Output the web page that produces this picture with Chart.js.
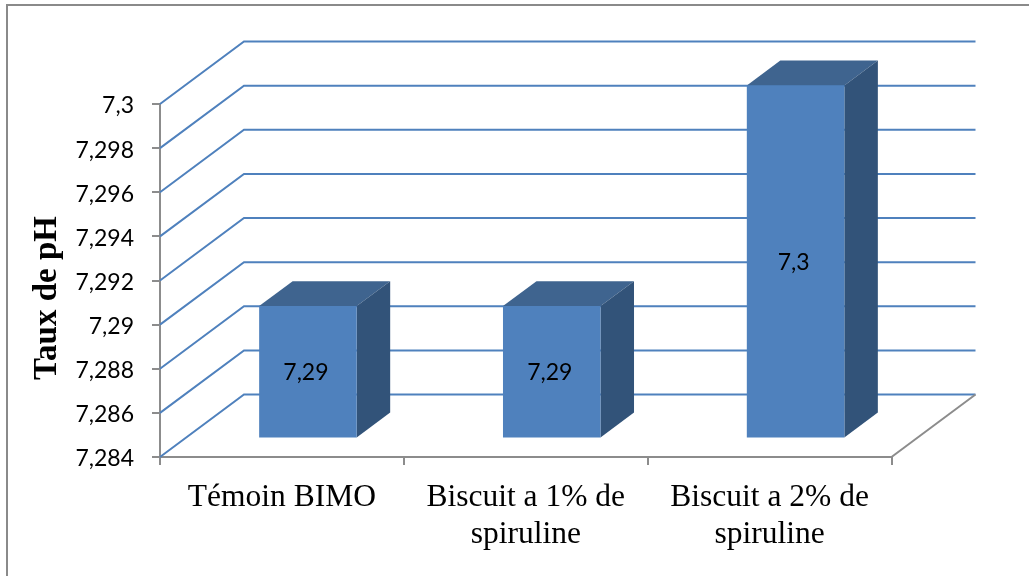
<!DOCTYPE html>
<html lang="fr">
<head>
  <meta charset="UTF-8" />
  <title>Taux de pH</title>
  <script src="https://cdn.jsdelivr.net/npm/chart.js"></script>
  <style>
    html, body { margin: 0; padding: 0; background: #fff; }
    /* the reference is a slightly soft scan */
    canvas { display: block; filter: blur(0.45px); }
  </style>
</head>
<body>
  <canvas id="phChart" width="1029" height="576"></canvas>
  <script>
    const categories = ['Témoin BIMO', ['Biscuit a 1% de', 'spiruline'], ['Biscuit a 2% de', 'spiruline']];
    const phValues = [7.29, 7.29, 7.3];
    const valueLabels = ['7,29', '7,29', '7,3'];
    const tickLabels = ['7,284', '7,286', '7,288', '7,29', '7,292', '7,294', '7,296', '7,298', '7,3'];
    const axisMin = 7.284;
    const axisMax = 7.3;

    const GRID = '#4f81bd';
    const AXIS = '#8c8c8c';
    // fake 3D: how far the back wall sits from the front plane
    const depth = { dx: 84, dy: -62.5 };
    const barOffset = { dx: 26, dy: -18.6 };
    const barDepth = { dx: 33.5, dy: -24.8 };

    function face(ctx, pts, color) {
      ctx.fillStyle = color;
      ctx.beginPath();
      pts.forEach((p, i) => (i ? ctx.lineTo(p[0], p[1]) : ctx.moveTo(p[0], p[1])));
      ctx.closePath();
      ctx.fill();
    }

    const fake3d = {
      id: 'fake3d',
      beforeDraw(chart) {
        // frame of the original picture, only top and left show
        const ctx = chart.ctx;
        ctx.save();
        ctx.strokeStyle = '#8a8a8a';
        ctx.lineWidth = 2;
        ctx.beginPath();
        ctx.moveTo(7, 576);
        ctx.lineTo(7, 5);
        ctx.lineTo(1029, 5);
        ctx.stroke();
        ctx.restore();
      },
      beforeDatasetsDraw(chart) {
        const { ctx, scales: { x, y } } = chart;
        const left = x.left, right = x.right;
        ctx.save();
        ctx.lineWidth = 2;
        ctx.strokeStyle = GRID;
        y.ticks.forEach((t) => {
          const py = y.getPixelForValue(t.value);
          ctx.beginPath();
          ctx.moveTo(left, py);
          ctx.lineTo(left + depth.dx, py + depth.dy);
          ctx.lineTo(right + depth.dx, py + depth.dy);
          ctx.stroke();
        });
        // floor edge on the right
        ctx.strokeStyle = AXIS;
        ctx.beginPath();
        ctx.moveTo(right, y.bottom);
        ctx.lineTo(right + depth.dx, y.bottom + depth.dy);
        ctx.stroke();
        ctx.restore();
      },
      beforeDatasetDraw(chart, args) {
        const ctx = chart.ctx;
        ctx.save();
        ctx.translate(barOffset.dx, barOffset.dy);
        args.meta.data.forEach((bar) => {
          const l = bar.x - bar.width / 2, r = bar.x + bar.width / 2;
          const dx = barDepth.dx, dy = barDepth.dy;
          face(ctx, [[l, bar.y], [l + dx, bar.y + dy], [r + dx, bar.y + dy], [r, bar.y]], '#3f648f');
          face(ctx, [[r, bar.y], [r + dx, bar.y + dy], [r + dx, bar.base + dy], [r, bar.base]], '#325379');
        });
      },
      afterDatasetDraw(chart, args) {
        const ctx = chart.ctx;
        ctx.restore();
        ctx.save();
        ctx.fillStyle = '#000';
        ctx.font = '23px Lato';
        ctx.textAlign = 'center';
        ctx.textBaseline = 'middle';
        args.meta.data.forEach((bar, i) => {
          const cy = (bar.y + bar.base) / 2 + barOffset.dy;
          ctx.fillText(valueLabels[i], bar.x + barOffset.dx - 2, cy + 1);
        });
        ctx.restore();
      },
      afterDraw(chart) {
        const ctx = chart.ctx;
        ctx.save();
        ctx.translate(47, 298);
        ctx.rotate(-Math.PI / 2);
        ctx.fillStyle = '#000';
        ctx.font = 'bold 33px "Liberation Serif"';
        ctx.textAlign = 'center';
        ctx.textBaseline = 'middle';
        ctx.fillText('Taux de pH', 0, 0);
        ctx.restore();
      }
    };

    new Chart(document.getElementById('phChart'), {
      type: 'bar',
      data: {
        labels: categories,
        datasets: [{
          data: phValues,
          base: axisMin,
          backgroundColor: GRID,
          barPercentage: 0.4,
          categoryPercentage: 1,
          clip: false
        }]
      },
      options: {
        responsive: false,
        animation: false,
        layout: { padding: { left: 40, top: 104, right: 137.5, bottom: 19 } },
        plugins: { legend: { display: false }, tooltip: { enabled: false } },
        scales: {
          x: {
            afterFit: (s) => { s.height = 100; },
            border: { color: AXIS, width: 2 },
            grid: { drawOnChartArea: false, color: AXIS, lineWidth: 2, tickLength: 8 },
            ticks: {
              color: '#000',
              maxRotation: 0,
              autoSkip: false,
              padding: 14,
              font: { family: '"Liberation Serif"', size: 31.5, lineHeight: 1.18 }
            }
          },
          y: {
            min: axisMin,
            max: axisMax,
            afterFit: (s) => { s.width = 120; },
            border: { color: AXIS, width: 2 },
            grid: { drawOnChartArea: false, color: AXIS, lineWidth: 2, tickLength: 8 },
            ticks: {
              stepSize: 0.002,
              color: '#000',
              padding: 18,
              labelOffset: 2,
              font: { family: 'Lato', size: 23 },
              callback: (v, i) => tickLabels[i]
            }
          }
        }
      },
      plugins: [fake3d]
    });
  </script>
</body>
</html>
